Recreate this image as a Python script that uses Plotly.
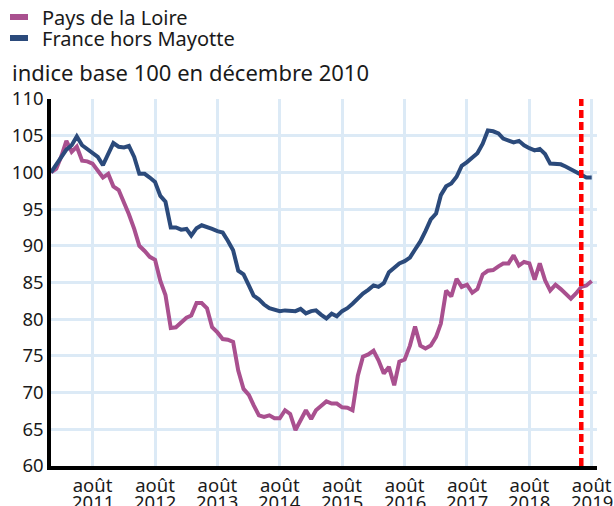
import pandas as pd
import plotly.graph_objects as go

# Monthly index, base 100 = December 2010
months = pd.date_range("2010-12-01", "2019-08-01", freq="MS")

pays_de_la_loire = [
    100.0, 100.5, 102.3, 104.3, 102.8, 103.5, 101.6, 101.5, 101.2, 100.2,
    99.3, 99.8, 98.1, 97.6, 96.0, 94.3, 92.3, 90.0, 89.3, 88.5,
    88.1, 85.2, 83.3, 78.8, 78.9, 79.6, 80.2, 80.5, 82.2, 82.2,
    81.5, 78.9, 78.2, 77.3, 77.2, 76.9, 73.0, 70.5, 69.7, 68.3,
    66.9, 66.7, 66.9, 66.5, 66.5, 67.6, 67.1, 64.9, 66.3, 67.6,
    66.4, 67.6, 68.2, 68.8, 68.5, 68.5, 68.0, 67.95, 67.6, 72.3,
    74.9, 75.2, 75.7, 74.4, 72.6, 73.5, 71.0, 74.2, 74.5, 76.4,
    79.0, 76.4, 76.0, 76.4, 77.6, 79.4, 83.9, 83.1, 85.5, 84.4,
    84.7, 83.6, 84.1, 86.1, 86.6, 86.7, 87.2, 87.6, 87.6, 88.7,
    87.3, 87.8, 87.6, 85.4, 87.6, 85.3, 83.9, 84.7, 84.1, 83.4,
    82.8, 83.5, 84.4, 84.6, 85.2,
]

france_hors_mayotte = [
    100.0, 101.0, 102.2, 103.1, 103.7, 104.9, 103.7, 103.2, 102.7, 102.1,
    101.0, 102.6, 104.0, 103.5, 103.4, 103.6, 102.1, 99.8, 99.8, 99.3,
    98.7, 96.8, 96.0, 92.5, 92.5, 92.2, 92.3, 91.4, 92.4, 92.8,
    92.6, 92.3, 92.0, 91.8, 90.7, 89.4, 86.6, 86.1, 84.6, 83.2,
    82.7, 82.0, 81.5, 81.3, 81.1, 81.2, 81.2, 81.1, 81.4, 80.8,
    81.1, 81.2, 80.6, 80.1, 80.75, 80.4, 81.1, 81.5, 82.1, 82.8,
    83.5, 84.0, 84.6, 84.4, 84.9, 86.4, 87.0, 87.6, 87.9, 88.4,
    89.5, 90.6, 92.0, 93.6, 94.4, 96.9, 98.1, 98.5, 99.4, 100.9,
    101.4, 102.1, 102.6, 103.9, 105.7, 105.6, 105.3, 104.6, 104.3, 104.1,
    104.3, 103.7, 103.3, 103.0, 103.2, 102.5, 101.2, 101.2, 101.1, 100.8,
    100.4, 100.0, 99.6, 99.3, 99.3,
]

series_names = ["Pays de la Loire", "France hors Mayotte"]

tick_dates = ["2011-08-01", "2012-08-01", "2013-08-01", "2014-08-01",
              "2015-08-01", "2016-08-01", "2017-08-01", "2018-08-01", "2019-08-01"]
tick_months = ["août"] * 9
tick_years = ["2011", "2012", "2013", "2014", "2015", "2016", "2017", "2018", "2019"]
marker_date = "2019-06-01"

PINK = "#a9508f"
BLUE = "#2b4a7b"
GRID = "#dceaf6"
FONT = "Noto Sans"
TXT = "#1a1a1a"

W, H = 614, 506
ML, MR, MT, MB = 51, 17, 99, 40
PW, PH = W - ML - MR, H - MT - MB


def px_x(p):
    return (p - ML) / PW


def px_y(p):
    return (H - MB - p) / PH


fig = go.Figure()
fig.add_trace(go.Scatter(x=months, y=pays_de_la_loire, mode="lines",
                         name=series_names[0], showlegend=False,
                         line=dict(color=PINK, width=4)))
fig.add_trace(go.Scatter(x=months, y=france_hors_mayotte, mode="lines",
                         name=series_names[1], showlegend=False,
                         line=dict(color=BLUE, width=4)))

# red dashed marker line
fig.add_shape(type="line", xref="x", yref="paper", x0=marker_date, x1=marker_date,
              y0=0, y1=1, line=dict(color="#ff0000", width=4.5, dash="8px,4px"))

# custom legend (short thick swatches, tight rows)
for i, (name, col) in enumerate(zip(series_names, [PINK, BLUE])):
    cy = 17 + 21 * i
    fig.add_shape(type="rect", xref="paper", yref="paper",
                  x0=px_x(10), x1=px_x(28), y0=px_y(cy + 3), y1=px_y(cy - 3),
                  line=dict(width=0), fillcolor=col)
    fig.add_annotation(text=name, xref="paper", yref="paper",
                       x=px_x(40), y=px_y(cy), xanchor="left", yanchor="middle",
                       showarrow=False, font=dict(size=20, color=TXT, family=FONT))

# subtitle
fig.add_annotation(text="indice base 100 en décembre 2010", xref="paper", yref="paper",
                   x=px_x(10), y=px_y(72), xanchor="left", yanchor="middle",
                   showarrow=False, font=dict(size=22, color=TXT, family=FONT))

# year line of the x tick labels
for d, yr in zip(tick_dates, tick_years):
    fig.add_annotation(text=yr, xref="x", yref="paper", x=d, y=0,
                       xanchor="center", yanchor="top", yshift=-21,
                       showarrow=False, font=dict(size=18.5, color=TXT, family=FONT))

fig.update_layout(
    width=W, height=H,
    margin=dict(l=ML, r=MR, t=MT, b=MB, autoexpand=False),
    paper_bgcolor="white", plot_bgcolor="white",
    font=dict(family=FONT, color=TXT, size=18.5),
    showlegend=False,
    xaxis=dict(type="date", range=["2010-12-01", "2019-09-01"],
               tickvals=tick_dates, ticktext=tick_months, tickangle=0,
               showgrid=True, gridcolor=GRID, gridwidth=3,
               showline=True, linecolor="black", linewidth=3.5,
               ticks="", zeroline=False, tickfont=dict(size=18.5)),
    yaxis=dict(range=[60, 110], dtick=5, tick0=60,
               showgrid=True, gridcolor=GRID, gridwidth=3,
               showline=True, linecolor="black", linewidth=3.5,
               ticks="", zeroline=False, tickfont=dict(size=18.5)),
)

fig.write_html("out.html",
               config={"displayModeBar": False},
               post_script="document.body.style.margin='0';document.body.style.padding='0';")
